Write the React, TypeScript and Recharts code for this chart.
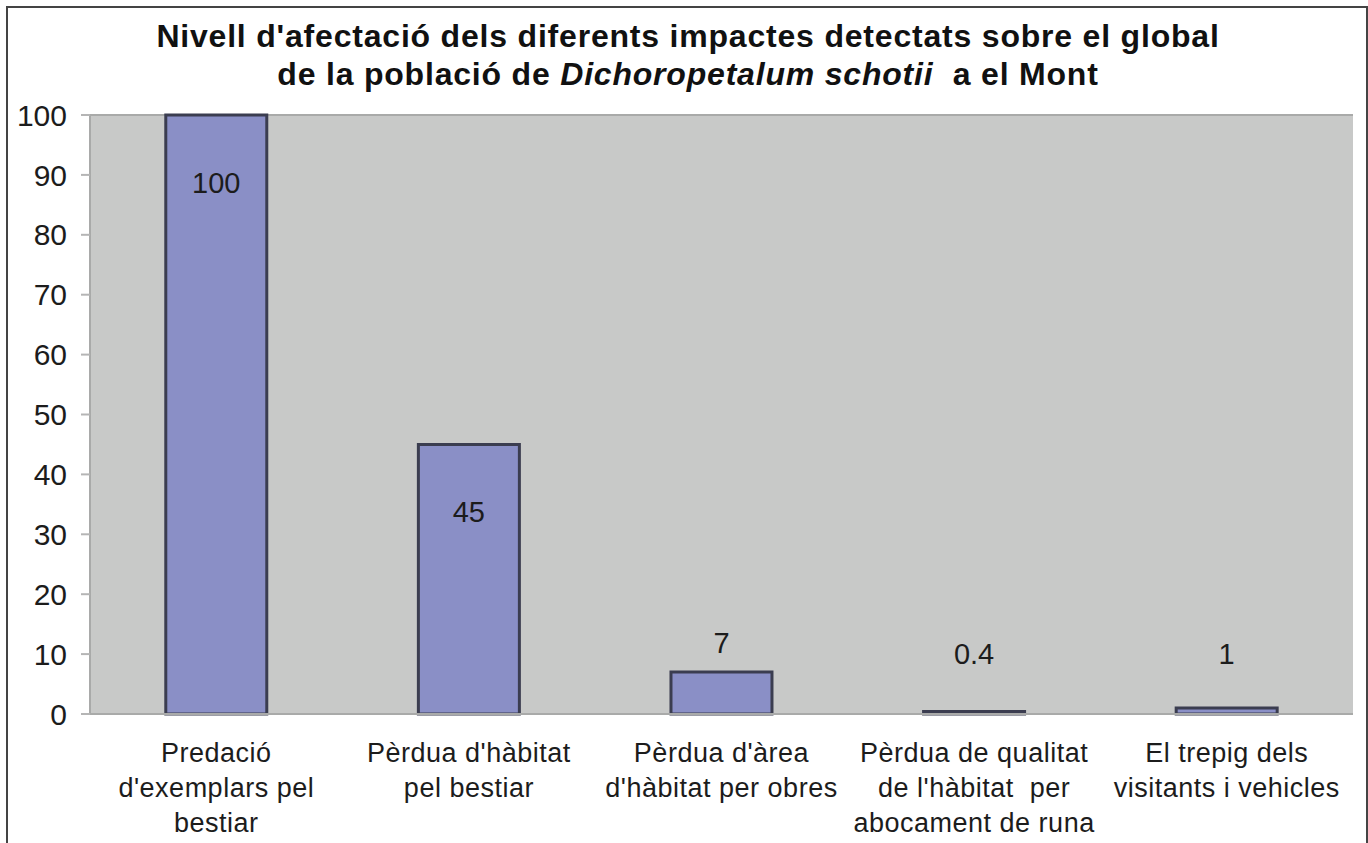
import React from "react"
import { BarChart, Bar, XAxis, YAxis, CartesianGrid, LabelList } from "recharts"

const categories = [
  ["Predació", "d'exemplars pel", "bestiar"],
  ["Pèrdua d'hàbitat", "pel bestiar"],
  ["Pèrdua d'àrea", "d'hàbitat per obres"],
  ["Pèrdua de qualitat", "de l'hàbitat  per", "abocament de runa"],
  ["El trepig dels", "visitants i vehicles"],
]
const values = [100, 45, 7, 0.4, 1]
const yTicks = [0, 10, 20, 30, 40, 50, 60, 70, 80, 90, 100]

const data = categories.map((lines, i) => ({
  name: lines.join(" "),
  lines,
  value: values[i],
}))

const FONT = "'Liberation Sans', Arial, sans-serif"
const TEXT = "#1c1c1c"

function CategoryTick(props: any) {
  const { x, y, index } = props
  const lines = categories[index] || []
  return (
    <text
      x={x}
      y={y + 40}
      textAnchor="middle"
      fontFamily={FONT}
      fontSize={27}
      letterSpacing={0.5}
      fill={TEXT}
    >
      {lines.map((l, i) => (
        <tspan key={i} x={x} dy={i === 0 ? 0 : 35} style={{ whiteSpace: "pre" }}>
          {l}
        </tspan>
      ))}
    </text>
  )
}

function ValueLabel(props: any) {
  const { x, y, width, height, value } = props
  const base = y + height
  // big bars get the label inside, small ones above
  const cy = value >= 40 ? y + 68 : Math.min(y - 29, base - 60)
  return (
    <text
      x={x + width / 2}
      y={cy}
      textAnchor="middle"
      dominantBaseline="central"
      fontFamily={FONT}
      fontSize={29}
      fill={TEXT}
    >
      {value}
    </text>
  )
}

export default function App() {
  return (
    <div
      style={{
        position: "absolute",
        left: 0,
        top: 0,
        width: 1368,
        height: 843,
        overflow: "hidden",
        background: "#fff",
      }}
    >
      <div
        style={{
          position: "absolute",
          left: 6,
          top: 6,
          width: 1358,
          height: 900,
          border: "2px solid #444",
        }}
      />
      <div
        style={{
          position: "absolute",
          left: 0,
          top: 17,
          width: 1376,
          textAlign: "center",
          fontFamily: FONT,
          fontWeight: "bold",
          fontSize: 32,
          letterSpacing: 0.8,
          lineHeight: "38px",
          color: "#111",
        }}
      >
        Nivell d'afectació dels diferents impactes detectats sobre el global
        <br />
        de la població de <i>Dichoropetalum schotii</i>&nbsp; a el Mont
      </div>
      <div style={{ position: "absolute", left: 0, top: 0 }}>
        <BarChart
          width={1368}
          height={843}
          data={data}
          margin={{ top: 115, right: 15, left: 0, bottom: 0 }}
          barCategoryGap="30%"
        >
          <CartesianGrid vertical={false} fill="#c8c9c8" stroke="#a9aaa9" strokeWidth={2} />
          <XAxis
            dataKey="name"
            height={129}
            interval={0}
            axisLine={{ stroke: "#a9aaa9", strokeWidth: 2 }}
            tickLine={false}
            tick={<CategoryTick />}
          />
          <YAxis
            yAxisId="l"
            width={90}
            domain={[0, 100]}
            ticks={yTicks}
            interval={0}
            axisLine={{ stroke: "#a9aaa9", strokeWidth: 2 }}
            tickLine={{ stroke: "#b5b5b5", strokeWidth: 2 }}
            tickSize={9}
            tickMargin={14}
            tick={{ fontFamily: FONT, fontSize: 30, fill: TEXT }}
          />
          <YAxis
            yAxisId="r"
            orientation="right"
            width={0}
            domain={[0, 100]}
            axisLine={{ stroke: "#a9aaa9", strokeWidth: 3 }}
            tickLine={false}
            tick={false}
          />
          <Bar
            yAxisId="l"
            dataKey="value"
            fill="#8a8fc6"
            stroke="#3b3d50"
            strokeWidth={3}
            isAnimationActive={false}
          >
            <LabelList dataKey="value" content={<ValueLabel />} />
          </Bar>
        </BarChart>
      </div>
    </div>
  )
}
